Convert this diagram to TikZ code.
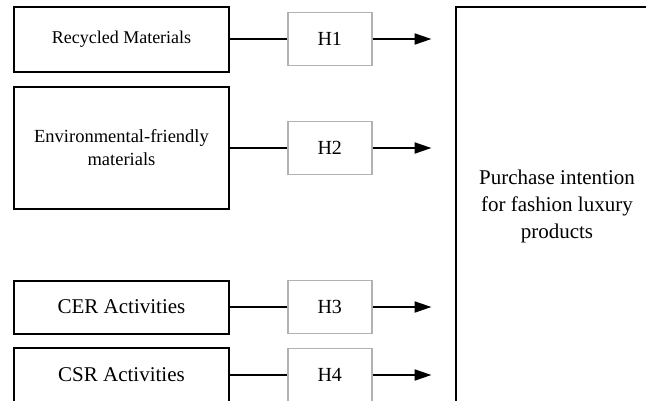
\documentclass[tikz,border=0pt]{standalone}
\usepackage{fontspec}
\setmainfont{Liberation Serif}
\usetikzlibrary{arrows.meta, positioning}

\begin{document}
\begin{tikzpicture}[
    x=1pt, y=-1pt,
    node distance=57pt,
    factor/.style={rectangle, draw, line width=2pt, minimum width=215pt,
                   align=center, inner sep=0pt},
    hyp/.style={rectangle, draw=gray!60, line width=1.5pt, minimum width=84pt,
                minimum height=53pt, inner sep=0pt, font=\fontsize{20}{24}\selectfont},
    link/.style={line width=2pt},
    arrow/.style={-{Triangle[length=17pt, width=11pt]}, line width=2pt},
    outcome/.style={rectangle, draw, line width=2pt, minimum width=202pt,
                    minimum height=398pt, align=center, inner sep=0pt,
                    font=\fontsize{21}{27}\selectfont},
]
    \useasboundingbox (0,0) rectangle (646,400);
    \clip (0,0) rectangle (646,400);

    % Factors
    \node[factor, minimum height=65pt, font=\fontsize{18}{22}\selectfont] (rec) at (121.5,39) {Recycled Materials};
    \node[factor, minimum height=122pt, font=\fontsize{18.5}{23}\selectfont] (env) at (121.5,148) {Environmental-friendly\\materials};
    \node[factor, minimum height=53pt, font=\fontsize{21}{25}\selectfont] (cer) at (121.5,307) {CER Activities};
    \node[factor, minimum height=54pt, font=\fontsize{21}{25}\selectfont] (csr) at (121.5,375) {CSR Activities};

    % Hypotheses
    \node[hyp, right=of rec] (h1) {H1};
    \node[hyp, right=of env] (h2) {H2};
    \node[hyp, right=of cer] (h3) {H3};
    \node[hyp, right=of csr] (h4) {H4};

    % Outcome
    \node[outcome] (pi) at (557,206) {Purchase intention\\for fashion luxury\\products};

    % Arrow tips
    \coordinate[right=59pt of h1] (t1);
    \coordinate[right=59pt of h2] (t2);
    \coordinate[right=59pt of h3] (t3);
    \coordinate[right=59pt of h4] (t4);

    % Connectors
    \draw[link] (rec) -- (h1);
    \draw[link] (env) -- (h2);
    \draw[link] (cer) -- (h3);
    \draw[link] (csr) -- (h4);
    \draw[arrow] (h1) -- (t1);
    \draw[arrow] (h2) -- (t2);
    \draw[arrow] (h3) -- (t3);
    \draw[arrow] (h4) -- (t4);
\end{tikzpicture}
\end{document}
